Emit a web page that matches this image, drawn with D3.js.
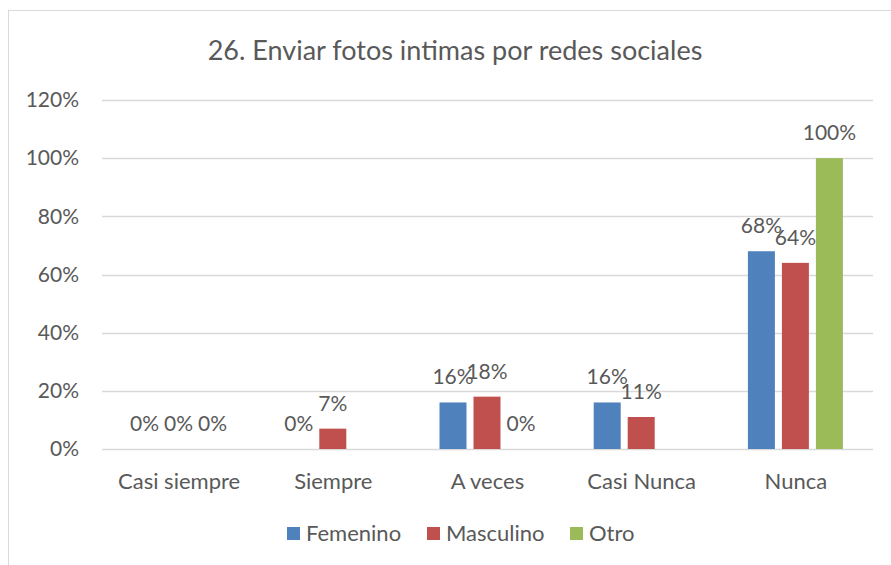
<!DOCTYPE html>
<html><head><meta charset="utf-8">
<script src="https://cdn.jsdelivr.net/npm/d3@7"></script>
<style>body{margin:0;background:#fff}svg{display:block}text{font-family:Lato,"Open Sans",sans-serif}</style>
</head><body>
<svg id="c" width="891" height="565"></svg>
<script>
const categories = ["Casi siempre","Siempre","A veces","Casi Nunca","Nunca"];
const seriesNames = ["Femenino","Masculino","Otro"];
const femenino = [0, 0, 0.16, 0.16, 0.68];
const masculino = [0, 0.07, 0.18, 0.11, 0.64];
const otro = [0, null, 0, null, 1.00];
const yTicks = [0, 0.2, 0.4, 0.6, 0.8, 1.0, 1.2];
const colors = ["#4F81BD","#C0504D","#9BBB59"];
const title = "26. Enviar fotos intimas por redes sociales";

(function(){
const seriesVals = [femenino, masculino, otro];
const svg = d3.select("#c");
const textCol = "#595959";
const fmt = d3.format(".0%");

svg.append("rect").attr("x",8.5).attr("y",10.5).attr("width",900).attr("height",600)
  .attr("fill","#fff").attr("stroke","#D9D9D9");

const pLeft = 102, pRight = 873, pTop = 100, pBottom = 449;
const x = d3.scaleBand().domain(categories).range([pLeft,pRight]);
const y = d3.scaleLinear().domain([0,1.2]).range([pBottom,pTop]);

svg.append("text").attr("x",455).attr("y",60).attr("text-anchor","middle")
  .attr("fill",textCol).attr("font-size",27).text(title);

svg.append("g").selectAll("line").data(yTicks).join("line")
  .attr("x1",pLeft).attr("x2",pRight).attr("y1",d=>Math.round(y(d))+0.5).attr("y2",d=>Math.round(y(d))+0.5)
  .attr("stroke","#D9D9D9").attr("stroke-width",1.5);

const yAxis = svg.append("g").attr("transform",`translate(${pLeft},0)`)
  .call(d3.axisLeft(y).tickValues(yTicks).tickFormat(fmt).tickSize(0).tickPadding(23));
yAxis.select(".domain").remove();
yAxis.selectAll("text").attr("font-size",21).attr("fill",textCol).attr("font-family","Lato");

const xAxis = svg.append("g").attr("transform",`translate(0,${pBottom})`)
  .call(d3.axisBottom(x).tickSize(0).tickPadding(24));
xAxis.select(".domain").remove();
xAxis.selectAll("text").attr("font-size",22).attr("fill",textCol).attr("font-family","Lato");

const groupW = 96;
seriesVals.forEach((vals,si)=>{
  const g = svg.append("g");
  const items = vals.map((v,i)=>({v,i})).filter(d=>d.v!==null);
  const bx = (i)=> x(categories[i]) + x.bandwidth()/2 - groupW/2 + si*34;
  g.selectAll("rect").data(items).join("rect")
    .attr("x",d=>bx(d.i)).attr("width",27)
    .attr("y",d=>y(d.v)).attr("height",d=>pBottom-y(d.v))
    .attr("fill",colors[si]);
  g.selectAll("text").data(items).join("text")
    .attr("x",d=>bx(d.i)+13.5).attr("y",d=>y(d.v)-18)
    .attr("text-anchor","middle").attr("font-size",21).attr("fill",textCol)
    .text(d=>fmt(d.v));
});

const legX = [287, 427, 570];
const lg = svg.append("g");
seriesNames.forEach((n,i)=>{
  lg.append("rect").attr("x",legX[i]).attr("y",527).attr("width",13).attr("height",13).attr("fill",colors[i]);
  lg.append("text").attr("x",legX[i]+19).attr("y",541).attr("font-size",22).attr("fill",textCol).text(n);
});
})();
</script>
</body></html>
